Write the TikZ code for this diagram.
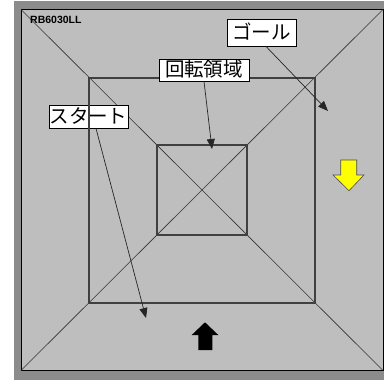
\documentclass[tikz,border=0pt]{standalone}
\usepackage{fontspec}
\setmainfont{Liberation Sans}
\newfontfamily\jpfont{Noto Sans CJK JP}
\usetikzlibrary{arrows.meta}
\definecolor{darkbg}{RGB}{140,140,140}
\definecolor{lightbg}{RGB}{190,190,190}
\definecolor{sqline}{RGB}{64,64,64}
\definecolor{arrowyellow}{RGB}{255,255,0}
\tikzset{
  lbl/.style={draw=black, fill=white, line width=0.8pt, inner sep=0pt,
    font=\jpfont\fontsize{19.5}{19.5}\selectfont, text height=16pt, text depth=3pt},
  pointer/.style={draw=black!85, line width=0.7pt, -{Triangle[length=10pt,width=8pt]}},
  diag/.style={draw=black!80, line width=0.6pt},
  sq/.style={draw=sqline, line width=1.1pt},
}
\begin{document}
\begin{tikzpicture}[x=1pt,y=-1pt]
\useasboundingbox (0,0) rectangle (384,383);
% backgrounds
\fill[darkbg] (14,1) rectangle (384,380);
\fill[lightbg] (21,9.5) rectangle (383,370.5);
\draw[black, line width=1pt] (21,9.5) rectangle (383,370.5);
% corners
\coordinate (TL) at (21,9.5);
\coordinate (TR) at (383,9.5);
\coordinate (BL) at (21,370.5);
\coordinate (BR) at (383,370.5);
% diagonals
\draw[diag] (TL) -- (BR);
\draw[diag] (TR) -- (BL);
% squares
\draw[sq] (89,78) rectangle (315,303);
\draw[sq] (157,145) rectangle (247,235);
% label
\node[anchor=base west, font=\bfseries\fontsize{10.5}{10.5}\selectfont, inner sep=0pt] (code) at (30,23) {RB6030LL};
% callout labels
\node[lbl, minimum width=69pt, minimum height=27pt] (goal) at (261.5,32.5) {ゴール};
\node[lbl, minimum width=90pt, minimum height=22pt] (rot) at (204,70) {回転領域};
\node[lbl, minimum width=79pt, minimum height=23pt] (start) at (88.5,116.5) {スタート};
% left edge of middle square drawn over the start label
\draw[sq] (89,78) -- (89,303);
% arrow targets
\coordinate (goalT) at (328,111);
\coordinate (rotT) at (212,149);
\coordinate (startT) at (146,318);
\draw[pointer] (goal.south -| 266,0) -- (goalT);
\draw[pointer] (rot.south) -- (rotT);
\draw[pointer] (start.south -| 96,0) -- (startT);
% block arrows
\fill[black] (198.3,350) -- (198.3,335) -- (191.7,335) -- (205,322.3) -- (218.3,335) -- (212.3,335) -- (212.3,350) -- cycle;
\filldraw[fill=arrowyellow, draw=black!70, line width=0.6pt] (340.7,160) -- (356.7,160) -- (356.7,175) -- (364,175) -- (349,190.7) -- (333,175) -- (340.7,175) -- cycle;
\end{tikzpicture}
\end{document}
